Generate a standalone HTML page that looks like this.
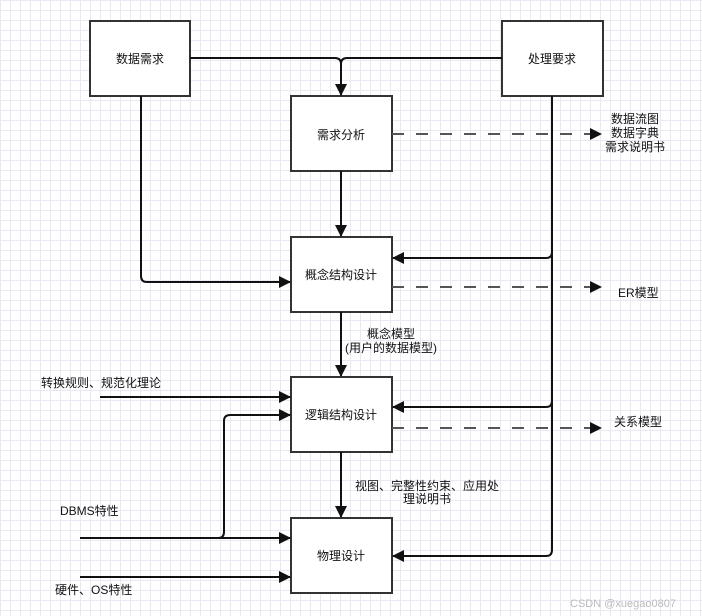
<!DOCTYPE html>
<html><head><meta charset="utf-8"><style>
html,body{margin:0;padding:0;background:#fff}
body{width:702px;height:616px;overflow:hidden;
background-image:linear-gradient(#e9e9f3 1px,transparent 1px),linear-gradient(90deg,#e9e9f3 1px,transparent 1px);
background-size:10px 10px;}
svg text{font-family:"Liberation Sans","Noto Sans CJK SC",sans-serif;font-size:12px;fill:#111}
</style></head><body>
<svg width="702" height="616" xmlns="http://www.w3.org/2000/svg" style="position:absolute;left:0;top:0">
<defs><marker id="a" markerWidth="12" markerHeight="12" refX="11" refY="6" orient="auto" markerUnits="userSpaceOnUse"><path d="M0,0 L12,6 L0,12 z" fill="#111"/></marker></defs>
<g fill="#fff" stroke="#333" stroke-width="2">
<rect x="90" y="21" width="100" height="75"/>
<rect x="502" y="21" width="101" height="75"/>
<rect x="291" y="96" width="101" height="75"/>
<rect x="291" y="237" width="101" height="75"/>
<rect x="291" y="377" width="101" height="75"/>
<rect x="291" y="518" width="101" height="75"/>
</g>
<g fill="none" stroke="#111" stroke-width="2">
<path d="M190,58 H335 Q341,58 341,64 V95" marker-end="url(#a)"/>
<path d="M502,58 H347 Q341,58 341,64"/>
<path d="M341,171 V236" marker-end="url(#a)"/>
<path d="M341,312 V376" marker-end="url(#a)"/>
<path d="M341,452 V517" marker-end="url(#a)"/>
<path d="M141,96 V276 Q141,282 147,282 H290" marker-end="url(#a)"/>
<path d="M552,96 V252 Q552,258 546,258 H393" marker-end="url(#a)"/>
<path d="M552,252 V401 Q552,407 546,407 H393" marker-end="url(#a)"/>
<path d="M552,401 V550 Q552,556 546,556 H393" marker-end="url(#a)"/>
<path d="M100,397 H290" marker-end="url(#a)"/>
<path d="M80,538 H290" marker-end="url(#a)"/>
<path d="M218,538 Q224,538 224,532 V421 Q224,415 230,415 H290" marker-end="url(#a)"/>
<path d="M80,577 H290" marker-end="url(#a)"/>
</g>
<g fill="none" stroke="#555" stroke-width="2" stroke-dasharray="12,12">
<path d="M392,134 H601" marker-end="url(#a)"/>
<path d="M392,287 H601" marker-end="url(#a)"/>
<path d="M392,428 H601" marker-end="url(#a)"/>
</g>
<g text-anchor="middle">
<text x="140" y="63">数据需求</text>
<text x="552" y="63">处理要求</text>
<text x="341" y="139">需求分析</text>
<text x="341" y="279">概念结构设计</text>
<text x="341" y="419">逻辑结构设计</text>
<text x="341" y="560">物理设计</text>
<text x="635" y="123">数据流图</text>
<text x="635" y="137">数据字典</text>
<text x="635" y="151">需求说明书</text>
<text x="391" y="338">概念模型</text>
<text x="391" y="352">(用户的数据模型)</text>
<text x="427" y="490">视图、完整性约束、应用处</text>
<text x="427" y="503">理说明书</text>
</g>
<text x="618" y="297">ER模型</text>
<text x="614" y="426">关系模型</text>
<text x="41" y="387">转换规则、规范化理论</text>
<text x="60" y="515">DBMS特性</text>
<text x="55" y="594">硬件、OS特性</text>
<text x="570" y="607" style="fill:#bbb;font-size:11px">CSDN @xuegao0807</text>
</svg>
</body></html>
